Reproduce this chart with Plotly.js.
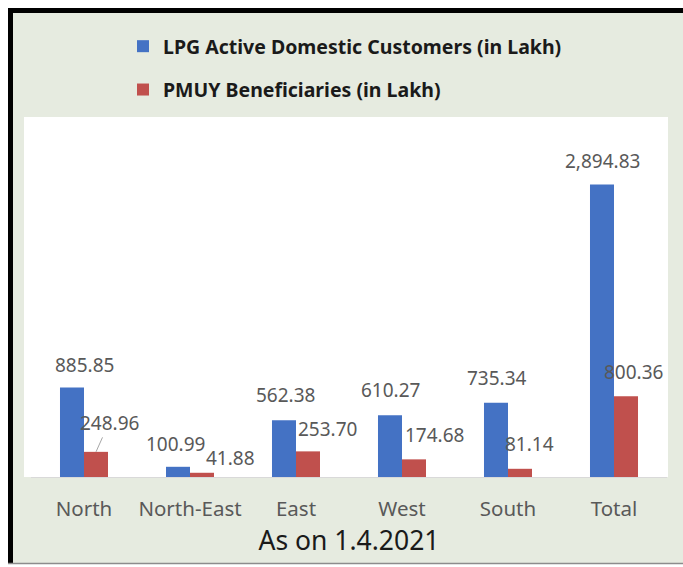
<!DOCTYPE html>
<html>
<head>
<meta charset="utf-8">
<script src="https://cdn.plot.ly/plotly-3.0.1.min.js"></script>
<style>html,body{margin:0;padding:0;background:#fff;}#chart{width:683px;height:567px;}</style>
</head>
<body>
<div id="chart"></div>
<script>
// ---- data ----
var categories = ["North", "North-East", "East", "West", "South", "Total"];
var lpgCustomers = [885.85, 100.99, 562.38, 610.27, 735.34, 2894.83];
var pmuyBeneficiaries = [248.96, 41.88, 253.70, 174.68, 81.14, 800.36];
var seriesNames = ["LPG Active Domestic Customers (in Lakh)", "PMUY Beneficiaries (in Lakh)"];
var xAxisTitle = "As on 1.4.2021";

// ---- label offsets (style, pixels) ----
var lpgLabelDx = [12, -3, 1, 0, 1, 0];
var lpgLabelUp = [23, 23, 25, 25, 25, 24];
var pmuyLabelDx = [13, 28, 19, 20, 9, 7];
var pmuyLabelUp = [29, 15, 22, 24, 25, 24];

var W = 683, H = 567;
var mL = 31, mR = 16, mT = 117, mB = 90;
var plotW = W - mL - mR, plotH = H - mT - mB;
function px(x) { return (x - mL) / plotW; }
function py(y) { return (H - mB - y) / plotH; }

var bargap = 0.547;
var off = (1 - bargap) / 4;
var blue = "#4472C4", red = "#C0504D";
var labelFont = {family: "Noto Sans, sans-serif", size: 19, color: "#595959"};

function fmt(v) {
  return v.toLocaleString("en-US", {minimumFractionDigits: 2, maximumFractionDigits: 2});
}

var idx = categories.map(function (c, i) { return i; });

var traces = [
  {type: "bar", name: seriesNames[0], x: idx, y: lpgCustomers, marker: {color: blue},
   legendgroup: "a", hoverinfo: "skip"},
  {type: "bar", name: seriesNames[1], x: idx, y: pmuyBeneficiaries, marker: {color: red},
   legendgroup: "b", hoverinfo: "skip"}
];

var annotations = [];
lpgCustomers.forEach(function (v, i) {
  annotations.push({x: i - off, y: v, xref: "x", yref: "y", text: fmt(v), showarrow: false,
    xshift: lpgLabelDx[i], yshift: lpgLabelUp[i], font: labelFont, xanchor: "center", yanchor: "middle"});
});
pmuyBeneficiaries.forEach(function (v, i) {
  if (i === 0) {
    annotations.push({x: i + off, y: v, xref: "x", yref: "y", text: fmt(v), showarrow: true,
      arrowhead: 0, arrowwidth: 1, arrowcolor: "#A6A6A6", ax: pmuyLabelDx[i], ay: -pmuyLabelUp[i],
      font: labelFont, standoff: 0});
  } else {
    annotations.push({x: i + off, y: v, xref: "x", yref: "y", text: fmt(v), showarrow: false,
      xshift: pmuyLabelDx[i], yshift: pmuyLabelUp[i], font: labelFont, xanchor: "center", yanchor: "middle"});
  }
});

var shapes = [
  // green chart background
  {type: "rect", xref: "paper", yref: "paper", x0: px(8), x1: px(684), y0: py(564), y1: py(8),
   fillcolor: "#E6EBE0", line: {width: 0}, layer: "below"},
  // white plot area
  {type: "rect", xref: "paper", yref: "paper", x0: px(24), x1: px(668), y0: py(477), y1: py(117),
   fillcolor: "#FFFFFF", line: {width: 0}, layer: "below"},
  // black border top & left
  {type: "rect", xref: "paper", yref: "paper", x0: px(8), x1: px(684), y0: py(13), y1: py(8),
   fillcolor: "#000000", line: {width: 0}, layer: "below"},
  {type: "rect", xref: "paper", yref: "paper", x0: px(8), x1: px(13), y0: py(564), y1: py(8),
   fillcolor: "#000000", line: {width: 0}, layer: "below"},
  // grey bottom line
  {type: "line", xref: "paper", yref: "paper", x0: px(8), x1: px(684), y0: py(563.5), y1: py(563.5),
   line: {color: "#8C8C8C", width: 1.5}, layer: "below"}
];

var layout = {
  width: W, height: H,
  margin: {l: mL, r: mR, t: mT, b: mB, pad: 0},
  paper_bgcolor: "#FFFFFF",
  plot_bgcolor: "rgba(0,0,0,0)",
  barmode: "group",
  bargap: bargap,
  bargroupgap: 0,
  showlegend: true,
  legend: {
    x: px(123), xanchor: "left", y: py(27), yanchor: "top",
    orientation: "v", traceorder: "grouped", tracegroupgap: 15, itemwidth: 30,
    bgcolor: "rgba(0,0,0,0)",
    font: {family: "Noto Sans, sans-serif", size: 19.5, color: "#1A1A1A", weight: "bold"}
  },
  xaxis: {
    type: "linear", range: [-0.5, categories.length - 0.5],
    tickmode: "array", tickvals: idx, ticktext: categories,
    tickfont: {family: "Noto Sans, sans-serif", size: 20.5, color: "#595959"},
    ticklabelstandoff: 13,
    showgrid: false, zeroline: false, showline: true, linecolor: "#D9D9D9", linewidth: 1,
    ticks: "", fixedrange: true,
    title: {text: xAxisTitle, font: {family: "Noto Sans, sans-serif", size: 26.5, color: "#1A1A1A"}, standoff: 7}
  },
  yaxis: {
    range: [0, 3564], visible: false, showgrid: false, zeroline: false, fixedrange: true
  },
  shapes: shapes,
  annotations: annotations
};

Plotly.newPlot("chart", traces, layout, {displayModeBar: false, staticPlot: true});
</script>
</body>
</html>
